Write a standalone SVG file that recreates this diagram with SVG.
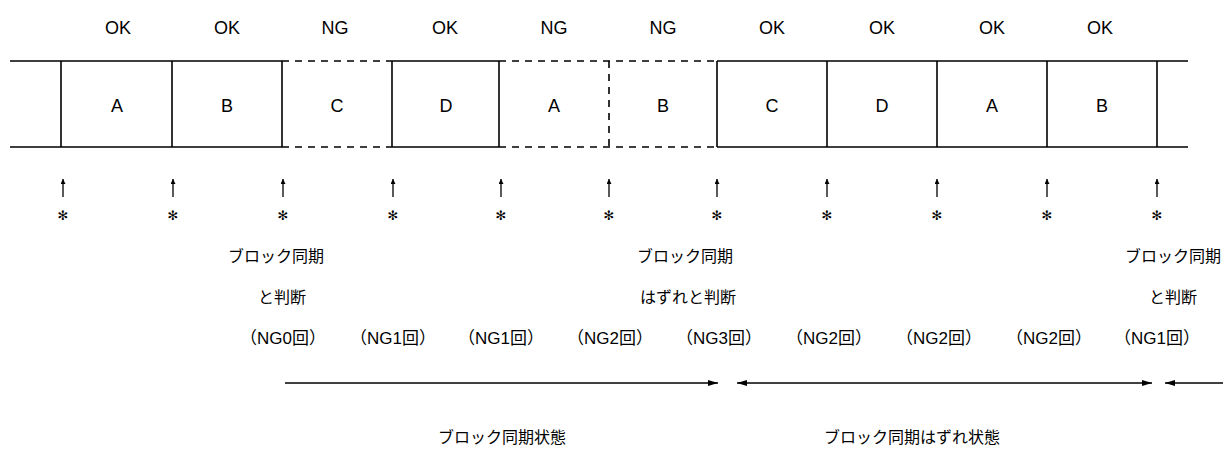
<svg xmlns="http://www.w3.org/2000/svg" width="1223" height="468" viewBox="0 0 1223 468">
<style>
.lat{font-family:"Liberation Sans",Arial,sans-serif;font-size:18px;text-anchor:middle;fill:#000}
.jp{font-family:"Liberation Sans","Noto Sans CJK JP",sans-serif;font-size:16px;fill:#000}
.cnt{font-family:"Liberation Sans","Noto Sans CJK JP",sans-serif;font-size:17px;fill:#000;text-anchor:middle}
.mid{text-anchor:middle}
.s{stroke:#000;stroke-width:1.6;fill:none}
.d{stroke:#000;stroke-width:1.6;fill:none;stroke-dasharray:7 6}
.ar{stroke:#000;stroke-width:1.3;fill:none}
.ast{font-family:"DejaVu Sans",sans-serif;font-size:13px;text-anchor:middle;fill:#000}
</style>
<defs>
<marker id="ah" viewBox="0 0 10 6" refX="10" refY="3" markerWidth="10" markerHeight="6" markerUnits="userSpaceOnUse" orient="auto-start-reverse">
<path d="M0,0 L10,3 L0,6 z" fill="#000"/>
</marker>
<marker id="up" viewBox="0 0 6 6" refX="6" refY="3" markerWidth="6" markerHeight="5" markerUnits="userSpaceOnUse" orient="auto">
<path d="M0,0 L6,3 L0,6 z" fill="#000"/>
</marker>
</defs>

<g id="tape">
<path class="s" d="M10,61 H282 M392,61 H499 M717,61 H1188 M10,147 H282 M392,147 H499 M717,147 H1188"/>
<path class="d" d="M282,61 H392 M499,61 H717 M282,147 H392 M499,147 H717"/>
<path class="d" d="M609,61 V147"/>
</g>

<g id="blk1"><path class="s" d="M61,61 V147"/><text class="lat" x="117" y="112">A</text><text class="lat" x="118" y="34">OK</text></g>
<g id="blk2"><path class="s" d="M172,61 V147"/><text class="lat" x="227" y="112">B</text><text class="lat" x="227" y="34">OK</text></g>
<g id="blk3"><path class="s" d="M282,61 V147"/><text class="lat" x="337" y="112">C</text><text class="lat" x="335" y="34">NG</text></g>
<g id="blk4"><path class="s" d="M392,61 V147"/><text class="lat" x="446" y="112">D</text><text class="lat" x="445" y="34">OK</text></g>
<g id="blk5"><path class="s" d="M499,61 V147"/><text class="lat" x="554" y="112">A</text><text class="lat" x="554" y="34">NG</text></g>
<g id="blk6"><text class="lat" x="663" y="112">B</text><text class="lat" x="663" y="34">NG</text></g>
<g id="blk7"><path class="s" d="M717,61 V147"/><text class="lat" x="772" y="112">C</text><text class="lat" x="772" y="34">OK</text></g>
<g id="blk8"><path class="s" d="M827,61 V147"/><text class="lat" x="882" y="112">D</text><text class="lat" x="882" y="34">OK</text></g>
<g id="blk9"><path class="s" d="M937,61 V147"/><text class="lat" x="992" y="112">A</text><text class="lat" x="992" y="34">OK</text></g>
<g id="blk10"><path class="s" d="M1047,61 V147"/><path class="s" d="M1157,61 V147"/><text class="lat" x="1102" y="112">B</text><text class="lat" x="1100" y="34">OK</text></g>

<g id="ticks">
<path class="ar" marker-end="url(#up)" d="M63,197 V179"/>
<path class="ar" marker-end="url(#up)" d="M173,197 V179"/>
<path class="ar" marker-end="url(#up)" d="M283,197 V179"/>
<path class="ar" marker-end="url(#up)" d="M393,197 V179"/>
<path class="ar" marker-end="url(#up)" d="M501,197 V179"/>
<path class="ar" marker-end="url(#up)" d="M609,197 V179"/>
<path class="ar" marker-end="url(#up)" d="M717,197 V179"/>
<path class="ar" marker-end="url(#up)" d="M827,197 V179"/>
<path class="ar" marker-end="url(#up)" d="M937,197 V179"/>
<path class="ar" marker-end="url(#up)" d="M1047,197 V179"/>
<path class="ar" marker-end="url(#up)" d="M1157,197 V179"/>
</g>
<g id="stars">
<text class="ast" x="63" y="220">✻</text>
<text class="ast" x="173" y="220">✻</text>
<text class="ast" x="283" y="220">✻</text>
<text class="ast" x="393" y="220">✻</text>
<text class="ast" x="501" y="220">✻</text>
<text class="ast" x="609" y="220">✻</text>
<text class="ast" x="717" y="220">✻</text>
<text class="ast" x="827" y="220">✻</text>
<text class="ast" x="937" y="220">✻</text>
<text class="ast" x="1047" y="220">✻</text>
<text class="ast" x="1157" y="220">✻</text>
</g>

<g id="note1"><text class="jp" x="228" y="262">ブロック同期</text><text class="jp" x="258" y="303">と判断</text></g>
<g id="note2"><text class="jp" x="637" y="262">ブロック同期</text><text class="jp" x="640" y="303">はずれと判断</text></g>
<g id="note3"><text class="jp" x="1221" y="262" text-anchor="end">ブロック同期</text><text class="jp" x="1149" y="303">と判断</text></g>

<g id="counts">
<text class="cnt" x="283" y="344">（NG0回）</text>
<text class="cnt" x="393" y="344">（NG1回）</text>
<text class="cnt" x="501" y="344">（NG1回）</text>
<text class="cnt" x="610" y="344">（NG2回）</text>
<text class="cnt" x="719" y="344">（NG3回）</text>
<text class="cnt" x="829" y="344">（NG2回）</text>
<text class="cnt" x="939" y="344">（NG2回）</text>
<text class="cnt" x="1049" y="344">（NG2回）</text>
<text class="cnt" x="1157" y="344">（NG1回）</text>
</g>

<g id="connectors">
<path class="ar" marker-end="url(#ah)" d="M285,383 H718"/>
<path class="ar" marker-start="url(#ah)" marker-end="url(#ah)" d="M737,383 H1152"/>
<path class="ar" marker-start="url(#ah)" d="M1165,383 H1223"/>
</g>

<g id="states">
<text class="jp mid" x="502" y="443">ブロック同期状態</text>
<text class="jp mid" x="912" y="443">ブロック同期はずれ状態</text>
</g>
</svg>
